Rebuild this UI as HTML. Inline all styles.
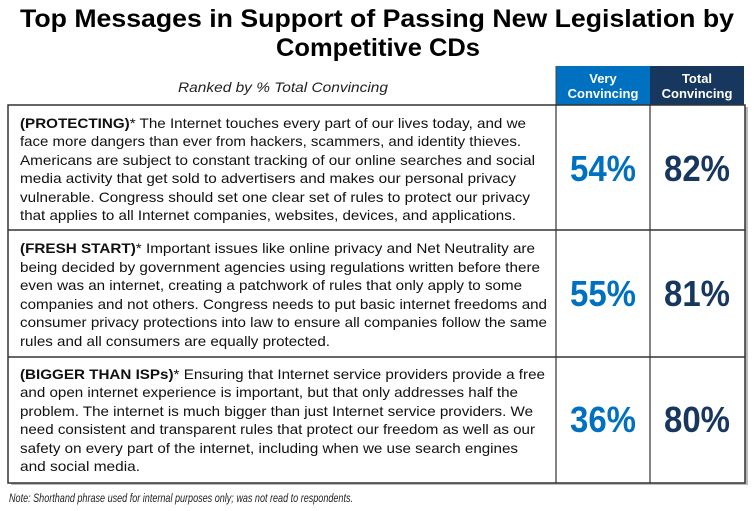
<!DOCTYPE html>
<html><head><meta charset="utf-8"><style>
html,body{margin:0;padding:0;background:#fff;}
svg{display:block;}
.t{font-family:"Liberation Sans",sans-serif;font-size:14px;fill:#111;}
</style></head><body>
<svg width="754" height="511" viewBox="0 0 754 511" xmlns="http://www.w3.org/2000/svg">
<g font-family="Liberation Sans, sans-serif" font-weight="bold" font-size="25" fill="#000" text-anchor="middle">
<text x="377" y="27" textLength="714" lengthAdjust="spacingAndGlyphs">Top Messages in Support of Passing New Legislation by</text>
<text x="378" y="56" textLength="204" lengthAdjust="spacingAndGlyphs">Competitive CDs</text>
</g>
<text x="283" y="92" font-family="Liberation Sans, sans-serif" font-style="italic" font-size="14" fill="#222" text-anchor="middle" textLength="210" lengthAdjust="spacingAndGlyphs">Ranked by % Total Convincing</text>
<rect x="556" y="66" width="94" height="39" fill="#0070C0"/>
<rect x="650" y="66" width="94" height="39" fill="#17375E"/>
<line x1="556" y1="66" x2="556" y2="105" stroke="#444" stroke-width="1"/>
<g font-family="Liberation Sans, sans-serif" font-weight="bold" font-size="13" fill="#fff" text-anchor="middle">
<text x="603" y="83">Very</text><text x="603" y="98">Convincing</text>
<text x="697" y="83">Total</text><text x="697" y="98">Convincing</text>
</g>
<rect x="11" y="107" width="737" height="378" fill="#bbb"/>
<rect x="8" y="105" width="737" height="378" fill="#fff" stroke="#333" stroke-width="1.5"/>
<line x1="8" y1="230" x2="745" y2="230" stroke="#333" stroke-width="1.5"/>
<line x1="8" y1="357" x2="745" y2="357" stroke="#333" stroke-width="1.5"/>
<line x1="556" y1="105" x2="556" y2="483" stroke="#333" stroke-width="1.2"/>
<line x1="650" y1="105" x2="650" y2="483" stroke="#333" stroke-width="1.2"/>
<g class="t">
<text x="20" y="128" textLength="506" lengthAdjust="spacingAndGlyphs"><tspan font-weight="bold">(PROTECTING)</tspan>* The Internet  touches every part of our lives today, and we</text>
<text x="20" y="146" textLength="501" lengthAdjust="spacingAndGlyphs">face more dangers than ever from hackers, scammers, and identity thieves.</text>
<text x="20" y="165" textLength="515" lengthAdjust="spacingAndGlyphs">Americans are subject to constant tracking of our online searches and social</text>
<text x="20" y="183" textLength="496" lengthAdjust="spacingAndGlyphs">media activity that get sold to advertisers and makes our personal privacy</text>
<text x="20" y="202" textLength="510" lengthAdjust="spacingAndGlyphs">vulnerable.  Congress should set one clear set of rules to protect our privacy</text>
<text x="20" y="220" textLength="496" lengthAdjust="spacingAndGlyphs">that applies to all Internet  companies, websites, devices, and applications.</text>

<text x="20" y="253" textLength="515" lengthAdjust="spacingAndGlyphs"><tspan font-weight="bold">(FRESH START)</tspan>* Important  issues like online privacy and Net Neutrality  are</text>
<text x="20" y="272" textLength="520" lengthAdjust="spacingAndGlyphs">being decided by government  agencies using regulations  written before there</text>
<text x="20" y="290" textLength="502" lengthAdjust="spacingAndGlyphs">even was an internet, creating a patchwork of rules that only apply to some</text>
<text x="20" y="309" textLength="527" lengthAdjust="spacingAndGlyphs">companies and not others. Congress needs to put basic internet freedoms and</text>
<text x="20" y="327" textLength="527" lengthAdjust="spacingAndGlyphs">consumer privacy protections into law to ensure all companies follow the same</text>
<text x="20" y="346" textLength="310" lengthAdjust="spacingAndGlyphs">rules and all consumers are equally  protected.</text>

<text x="20" y="379" textLength="525" lengthAdjust="spacingAndGlyphs"><tspan font-weight="bold">(BIGGER THAN ISPs)</tspan>* Ensuring  that Internet  service providers provide a free</text>
<text x="20" y="397" textLength="498" lengthAdjust="spacingAndGlyphs">and open internet experience is important, but that only addresses half the</text>
<text x="20" y="416" textLength="513" lengthAdjust="spacingAndGlyphs">problem. The internet is much bigger than just Internet  service providers. We</text>
<text x="20" y="434" textLength="515" lengthAdjust="spacingAndGlyphs">need consistent and transparent rules that protect our freedom as well as our</text>
<text x="20" y="453" textLength="498" lengthAdjust="spacingAndGlyphs">safety on every part of the internet, including when we use search engines</text>
<text x="20" y="471" textLength="120" lengthAdjust="spacingAndGlyphs">and social media.</text>
</g>
<g font-family="Liberation Sans, sans-serif" font-weight="bold" font-size="36" text-anchor="middle">
<text x="603" y="181" fill="#0070C0" textLength="66" lengthAdjust="spacingAndGlyphs">54%</text>
<text x="697" y="181" fill="#17375E" textLength="66" lengthAdjust="spacingAndGlyphs">82%</text>
<text x="603" y="306" fill="#0070C0" textLength="66" lengthAdjust="spacingAndGlyphs">55%</text>
<text x="697" y="306" fill="#17375E" textLength="66" lengthAdjust="spacingAndGlyphs">81%</text>
<text x="603" y="432" fill="#0070C0" textLength="66" lengthAdjust="spacingAndGlyphs">36%</text>
<text x="697" y="432" fill="#17375E" textLength="66" lengthAdjust="spacingAndGlyphs">80%</text>
</g>
<text x="9" y="502" font-family="Liberation Sans, sans-serif" font-style="italic" font-size="12" fill="#222" textLength="344" lengthAdjust="spacingAndGlyphs">Note: Shorthand phrase used for internal purposes only; was not read to respondents.</text>
</svg>
</body></html>
